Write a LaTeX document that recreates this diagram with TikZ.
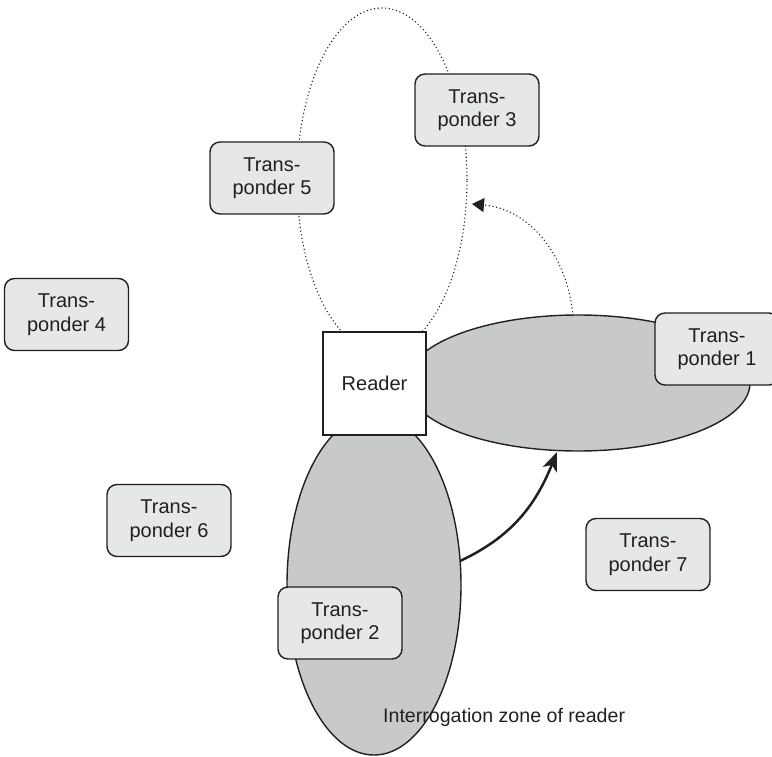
\documentclass[tikz,border=0pt]{standalone}
\usepackage{fontspec}
\setmainfont{Liberation Sans}
\usetikzlibrary{shapes.geometric,arrows.meta}
\definecolor{ink}{HTML}{231F20}
\definecolor{zonegray}{HTML}{C8C9CB}
\definecolor{boxgray}{HTML}{E6E7E8}
\tikzset{
  tbox/.style={draw=ink, fill=boxgray, line width=1.4pt, rounded corners=10pt,
    minimum width=124pt, minimum height=72pt, align=center, inner sep=0pt,
    font=\fontsize{20}{23.5}\selectfont, text=ink},
  zone/.style={ellipse, draw=ink, fill=zonegray, line width=1.4pt, inner sep=0pt, outer sep=0pt},
  dotzone/.style={ellipse, draw=ink, line width=1.1pt, dash pattern=on 1.1pt off 2.6pt, inner sep=0pt, outer sep=0pt},
  dotarrow/.style={draw=ink, line width=1.1pt, dash pattern=on 1.1pt off 2.6pt, -{Triangle[length=12pt,width=14pt]}},
  solidarrow/.style={draw=ink, line width=2.5pt, -{Stealth[length=19pt,width=15pt,inset=5pt]}},
  lbl/.style={font=\fontsize{19.6}{23}\selectfont, text=ink, inner sep=0pt}
}
\begin{document}
\begin{tikzpicture}[x=1pt,y=-1pt]
\useasboundingbox (0,0) rectangle (772,757);
\clip (0,0) rectangle (772,757);
% dotted zone
\node[dotzone, minimum width=170pt, minimum height=344pt] (zd) at (382,180) {};
% gray zones
\node[zone, minimum width=344pt, minimum height=136pt] (zr) at (578,383) {};
\node[zone, minimum width=174pt, minimum height=340pt] (zb) at (374,585) {};
% reader
\node[draw=ink, fill=white, line width=1.4pt, minimum width=103pt, minimum height=103pt,
      inner sep=0pt, font=\fontsize{20}{23.5}\selectfont, text=ink] (reader) at (374.5,383.5) {Reader};
% transponders
\node[tbox] (t3) at (477,110) {Trans-\\ponder 3};
\node[tbox] (t5) at (272,178) {Trans-\\ponder 5};
\node[tbox] (t4) at (66.5,314.5) {Trans-\\ponder 4};
\node[tbox] (t1) at (717,349) {Trans-\\ponder 1};
\node[tbox] (t6) at (169,520.5) {Trans-\\ponder 6};
\node[tbox] (t7) at (648,554.5) {Trans-\\ponder 7};
\node[tbox] (t2) at (340,623) {Trans-\\ponder 2};
% arrows
\coordinate (dstart) at (573,316);
\coordinate (dend) at (472,204);
\draw[dotarrow] (dstart) to[out=95,in=-5] (dend);
\coordinate (sstart) at (460,561);
\coordinate (send) at (557,452);
\draw[solidarrow] (sstart) to[out=25,in=-112] (send);
% label
\node[lbl, anchor=base west] (zonelbl) at (383,722) {Interrogation zone of reader};
\end{tikzpicture}
\end{document}
